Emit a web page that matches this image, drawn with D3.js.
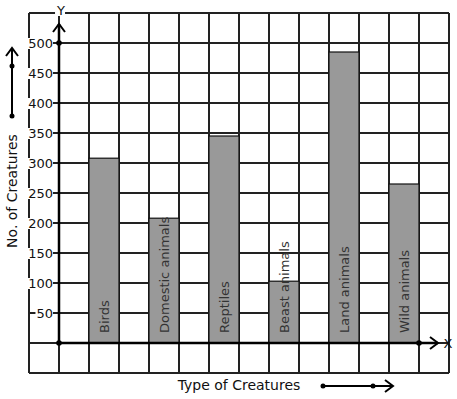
<!DOCTYPE html>
<html><head><meta charset="utf-8">
<script src="https://cdn.jsdelivr.net/npm/d3@7"></script>
<style>body{margin:0;background:#fff}svg{display:block}</style>
</head><body>
<svg id="c" width="457" height="399"></svg>
<script>
const categories = ["Birds","Domestic animals","Reptiles","Beast animals","Land animals","Wild animals"];
const values = [308, 208, 345, 103, 485, 265];
const yTicks = [50,100,150,200,250,300,350,400,450,500];
const xTitle = "Type of Creatures";
const yTitle = "No. of Creatures";

const svg = d3.select("#c");
const font = "DejaVu Sans, sans-serif";
// grid units: x -1..13 (column width 30px), y -50..550
const x = d3.scaleLinear().domain([-1, 13]).range([29, 449]);
const y = d3.scaleLinear().domain([0, 500]).range([343, 43]);

const g = svg.append("g");
// grid
const xs = d3.range(-1, 14);
const ys = d3.range(-50, 551, 50);
g.selectAll("line.v").data(xs).join("line")
  .attr("x1", d => x(d)).attr("x2", d => x(d))
  .attr("y1", y(550)).attr("y2", y(-50))
  .attr("stroke", "#222").attr("stroke-width", 1.2).attr("shape-rendering","crispEdges");
g.selectAll("line.h").data(ys).join("line")
  .attr("x1", x(-1)).attr("x2", x(13))
  .attr("y1", d => y(d)).attr("y2", d => y(d))
  .attr("stroke", "#222").attr("stroke-width", 1.2).attr("shape-rendering","crispEdges");

// bars
const barPos = (i) => 1 + 2 * i;
g.selectAll("rect.bar").data(values).join("rect")
  .attr("x", (d, i) => x(barPos(i))).attr("width", x(1) - x(0))
  .attr("y", d => y(d)).attr("height", d => y(0) - y(d))
  .attr("fill", "#999").attr("stroke", "#111").attr("stroke-width", 1.2);

// bar labels
g.selectAll("text.bl").data(categories).join("text")
  .attr("transform", (d, i) => `translate(${x(barPos(i) + 0.5)},${y(0) - 10}) rotate(-90)`)
  .attr("dy", "0.36em")
  .attr("font-family", font).attr("font-size", 13).attr("fill", "#333")
  .text(d => d);

// axes
function chevron(px, py, dir) {
  const s = 6;
  let p;
  if (dir === "up") p = `M${px - s},${py + s + 2}L${px},${py}L${px + s},${py + s + 2}`;
  else p = `M${px - s - 2},${py - s}L${px},${py}L${px - s - 2},${py + s}`;
  return p;
}
svg.append("line").attr("x1", x(0)).attr("x2", x(0)).attr("y1", y(0)).attr("y2", 24)
  .attr("stroke", "#000").attr("stroke-width", 2.5);
svg.append("path").attr("d", chevron(x(0), 24, "up")).attr("fill", "none").attr("stroke", "#000").attr("stroke-width", 2);
svg.append("line").attr("x1", x(0)).attr("x2", 438).attr("y1", y(0)).attr("y2", y(0))
  .attr("stroke", "#000").attr("stroke-width", 2.5);
svg.append("path").attr("d", chevron(438, y(0), "right")).attr("fill", "none").attr("stroke", "#000").attr("stroke-width", 2);
[[x(0), y(0)], [x(0), y(500)], [x(12), y(0)]].forEach(p =>
  svg.append("circle").attr("cx", p[0]).attr("cy", p[1]).attr("r", 2.8).attr("fill", "#000"));

// labeled text with white background
function bgText(tx, ty, str, anchor, size) {
  const t = svg.append("text").attr("x", tx).attr("y", ty).attr("text-anchor", anchor)
    .attr("font-family", font).attr("font-size", size).attr("fill", "#111").text(str);
  const b = t.node().getBBox();
  svg.insert("rect", () => t.node()).attr("x", b.x - 1).attr("y", b.y + 2).attr("width", b.width + 1).attr("height", b.height - 4).attr("fill", "#fff");
  return t;
}
yTicks.forEach(v => bgText(53, y(v) + 5, String(v), "end", 13));
bgText(x(0) + 2, 15, "Y", "middle", 13);
svg.append("text").attr("x", 448).attr("y", 348).attr("text-anchor", "middle")
  .attr("font-family", font).attr("font-size", 13).attr("fill", "#111").text("X");

// axis titles
svg.append("text").attr("x", 239).attr("y", 390).attr("text-anchor", "middle")
  .attr("font-family", font).attr("font-size", 14).attr("fill", "#111").text(xTitle);
svg.append("text").attr("transform", "translate(17,191) rotate(-90)").attr("text-anchor", "middle")
  .attr("font-family", font).attr("font-size", 14).attr("fill", "#111").text(yTitle);

// decorative arrows
svg.append("line").attr("x1", 323).attr("x2", 392).attr("y1", 386).attr("y2", 386).attr("stroke", "#000").attr("stroke-width", 2);
svg.append("path").attr("d", chevron(393, 386, "right")).attr("fill", "none").attr("stroke", "#000").attr("stroke-width", 2);
[[323, 386], [373, 386]].forEach(p => svg.append("circle").attr("cx", p[0]).attr("cy", p[1]).attr("r", 2.5).attr("fill", "#000"));
svg.append("line").attr("x1", 12).attr("x2", 12).attr("y1", 116).attr("y2", 49).attr("stroke", "#000").attr("stroke-width", 2);
svg.append("path").attr("d", chevron(12, 48, "up")).attr("fill", "none").attr("stroke", "#000").attr("stroke-width", 2);
[[12, 66], [12, 116]].forEach(p => svg.append("circle").attr("cx", p[0]).attr("cy", p[1]).attr("r", 2.5).attr("fill", "#000"));
</script>
</body></html>
